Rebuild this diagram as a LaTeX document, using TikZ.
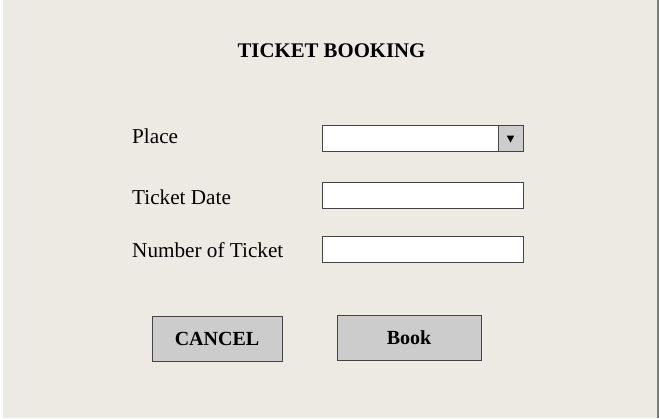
\documentclass[tikz,border=0pt]{standalone}
\usepackage{fontspec}
\setmainfont{Liberation Serif}
\usetikzlibrary{positioning}
\definecolor{panelbg}{HTML}{EDEAE4}
\definecolor{framegray}{HTML}{7A7A7A}
\definecolor{btngray}{HTML}{CCCCCC}
\definecolor{edgegray}{HTML}{444444}
\tikzset{
  lbl/.style={anchor=base west,inner sep=0pt,font=\fontsize{21.2}{25}\selectfont},
  field/.style={draw=edgegray,fill=white,line width=1pt,minimum width=201pt,minimum height=26pt,inner sep=0pt},
  dropbtn/.style={draw=edgegray,fill=btngray,line width=1pt,minimum width=25pt,minimum height=26pt,inner sep=0pt},
  btn/.style={draw=edgegray,fill=btngray,line width=1pt,minimum height=45pt,inner sep=0pt,font=\fontsize{20}{24}\selectfont\bfseries}
}
\begin{document}
\begin{tikzpicture}[x=1pt,y=-1pt]
		\useasboundingbox (0,0) rectangle (659,418);
		\fill[panelbg] (3,0) rectangle (659,418);
		\draw[framegray,line width=1.5pt] (658,0) -- (658,418);
		\node[anchor=base,inner sep=0pt,font=\fontsize{20.8}{25}\selectfont\bfseries] (title) at (331.5,57) {TICKET BOOKING};
		\node[lbl] (place) at (132,143) {Place};
		\node[lbl] (date) at (132,204) {Ticket Date};
		\node[lbl] (number) at (132,257) {Number of Ticket};
		\node[field] (placefield) at (422.5,138) {};
		\node[field,below=30pt of placefield] (datefield) {};
		\node[field,below=27pt of datefield] (numberfield) {};
		\node[dropbtn,anchor=east] (placebtn) at (placefield.east) {};
		\fill ([shift={(-3.8,-2.5)}]placebtn.center) -- ++(7.6,0) -- ++(-3.8,7) -- cycle;
		\node[btn,minimum width=130pt] (cancel) at (217,338.5) {CANCEL};
		\node[btn,minimum width=144pt] (book) at (409,337.5) {Book};
\end{tikzpicture}
\end{document}
